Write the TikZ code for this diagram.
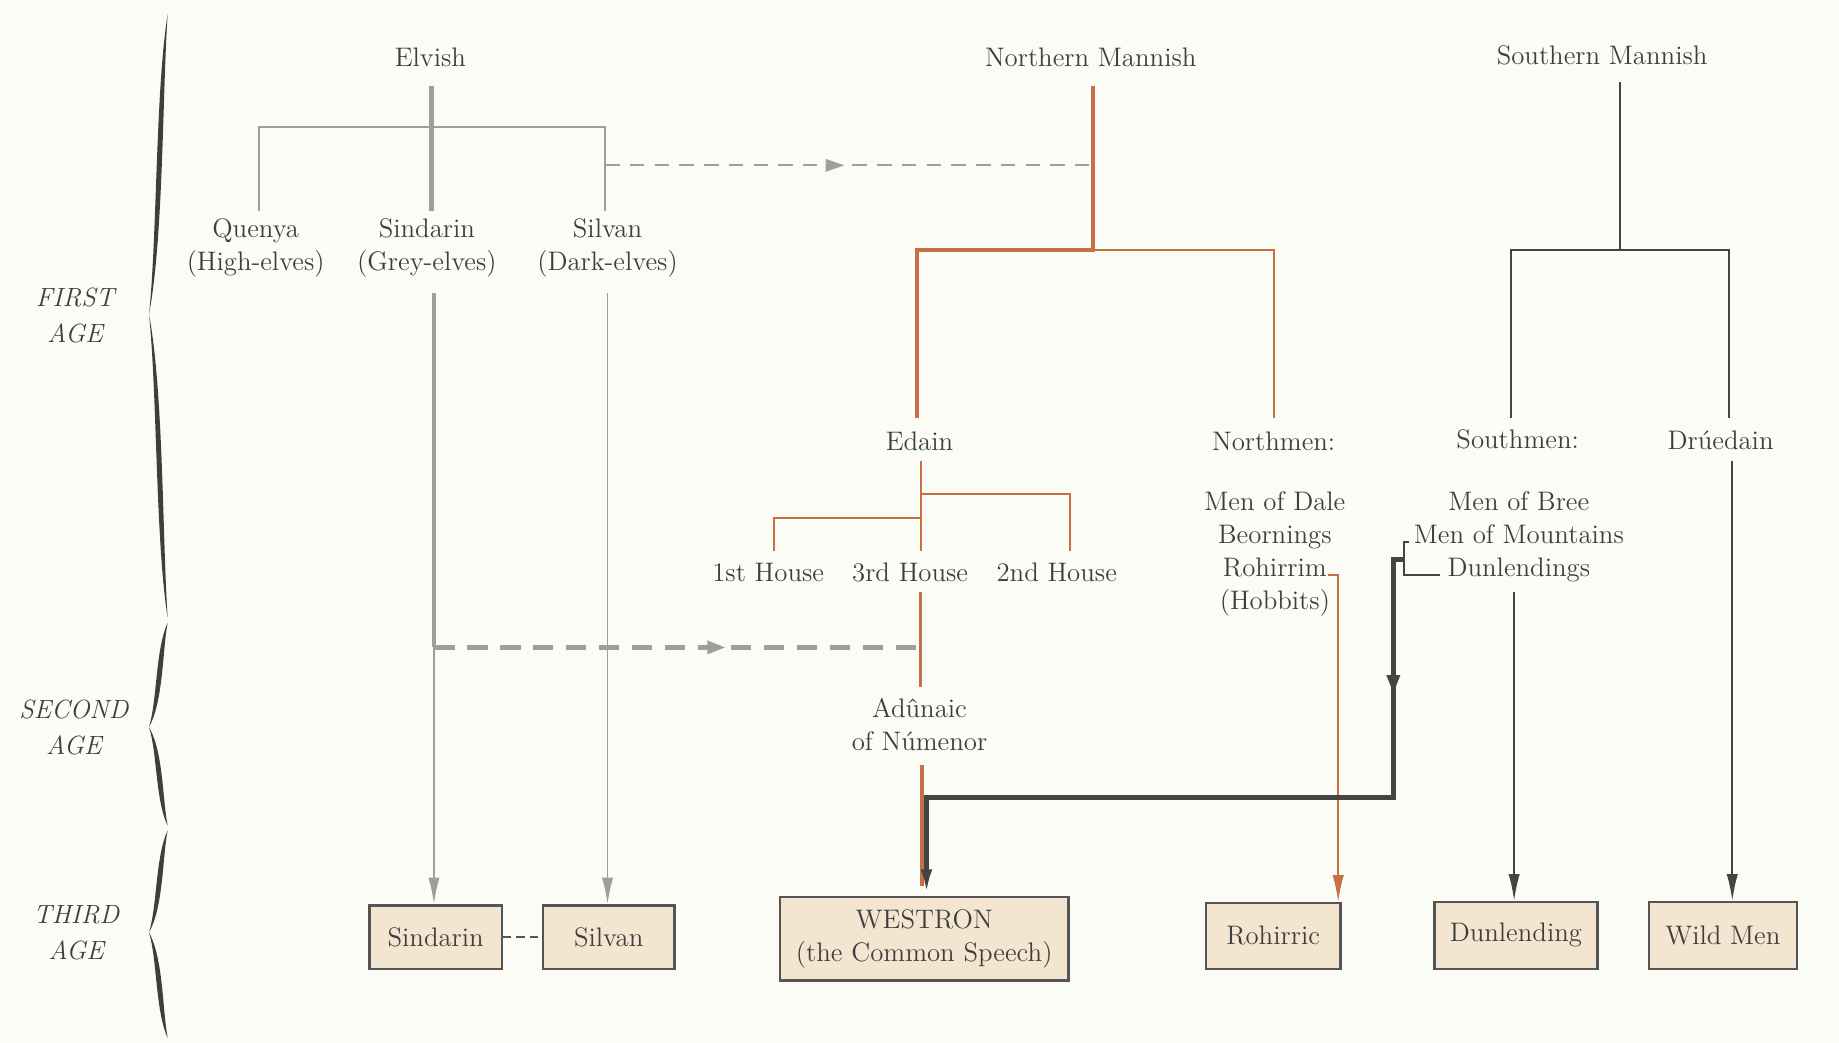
\documentclass[tikz,border=0pt]{standalone}
\usetikzlibrary{arrows.meta,decorations.markings}
\definecolor{bg}{RGB}{252,252,246}
\definecolor{elf}{RGB}{158,158,158}
\definecolor{nman}{RGB}{198,112,68}
\definecolor{sman}{RGB}{68,68,68}
\definecolor{txt}{RGB}{62,62,62}
\definecolor{boxfill}{RGB}{243,229,208}
\definecolor{boxline}{RGB}{85,85,85}
\begin{document}
\begin{tikzpicture}[x=0.02cm,y=-0.02cm,
  lbl/.style={text=txt, inner sep=0pt, align=center, font=\fontsize{13}{16}\selectfont},
  agelbl/.style={text=txt, inner sep=0pt, align=center, font=\fontsize{12.8}{17.5}\selectfont\itshape},
  lang/.style={draw=boxline, line width=1.1pt, fill=boxfill, text=txt, align=center, inner sep=0pt, font=\fontsize{13}{16}\selectfont},
  thinln/.style={line width=0.9pt},
  thickln/.style={line width=2.3pt},
  tip/.style={-{Latex[length=13pt,width=5.5pt]}},
  midarrow/.style={postaction={decorate}, decoration={markings, mark=at position #1 with {\arrow{Triangle[length=9pt,width=6pt]}}}},
]
\fill[bg] (0,0) rectangle (1568,889);
\useasboundingbox (0,0) rectangle (1568,889);

% ---- braces ----
\foreach \ya/\yt/\yb in {12/268/527, 531/620/704, 708/795/885}{
  \fill[txt] (143,\ya) .. controls (132.5,{\ya+0.25*(\yt-\ya)}) and (134,{\yt-0.25*(\yt-\ya)}) .. (127,\yt)
     .. controls (139.5,{\yt-0.25*(\yt-\ya)}) and (138.5,{\ya+0.25*(\yt-\ya)}) .. (143,\ya) -- cycle;
  \fill[txt] (127,\yt) .. controls (134,{\yt+0.25*(\yb-\yt)}) and (132.5,{\yb-0.25*(\yb-\yt)}) .. (143,\yb)
     .. controls (138.5,{\yb-0.25*(\yb-\yt)}) and (139.5,{\yt+0.25*(\yb-\yt)}) .. (127,\yt) -- cycle;
}

% ---- age labels ----
\node[agelbl] (first) at (64,269) {FIRST\\AGE};
\node[agelbl] (second) at (63,620) {SECOND\\AGE};
\node[agelbl] (third) at (65,795) {THIRD\\AGE};

% ---- text nodes ----
\node[lbl] (elvish) at (367,49) {Elvish};
\node[lbl] (nmann) at (930,49) {Northern Mannish};
\node[lbl] (smann) at (1366,47) {Southern Mannish};
\node[lbl] (quenya) at (218,211) {Quenya\\(High-elves)};
\node[lbl] (sind) at (364,211) {Sindarin\\(Grey-elves)};
\node[lbl] (silv) at (518,211) {Silvan\\(Dark-elves)};
\node[lbl] (edain) at (784,376) {Edain};
\node[lbl] (northmen) at (1086,376) {Northmen:};
\node[lbl] (southmen) at (1294,375) {Southmen:};
\node[lbl] (drue) at (1467,375) {Dr\'uedain};
\node[lbl] (nlist) at (1087,472) {Men of Dale\\Beornings\\Rohirrim\\(Hobbits)};
\node[lbl] (slist) at (1295,458) {Men of Bree\\Men of Mountains\\Dunlendings};
\node[lbl] (h1) at (655,488) {1st House};
\node[lbl] (h3) at (776,488) {3rd House};
\node[lbl] (h2) at (901,488) {2nd House};
\node[lbl] (adun) at (784,618) {Ad\^unaic\\of N\'umenor};

% ---- boxes ----
\node[lang, minimum width=2.26cm, minimum height=1.08cm] (bsind) at (371.5,799) {Sindarin};
\node[lang, minimum width=2.24cm, minimum height=1.08cm] (bsilv) at (519,799) {Silvan};
\node[lang, minimum width=4.92cm, minimum height=1.42cm] (bwest) at (788,800.5) {WESTRON\\(the Common Speech)};
\node[lang, minimum width=2.30cm, minimum height=1.12cm] (broh) at (1085.5,798) {Rohirric};
\node[lang, minimum width=2.78cm, minimum height=1.14cm] (bdun) at (1292.5,797.5) {Dunlending};
\node[lang, minimum width=2.52cm, minimum height=1.14cm] (bwild) at (1469,797.5) {Wild Men};

% ---- coordinates ----
\coordinate (e0) at (368,73);
\coordinate (e1) at (368,180);
\coordinate (qt) at (221,180);
\coordinate (qh) at (221,108);
\coordinate (sh) at (516,108);
\coordinate (st) at (516,180);
\coordinate (sd0) at (516,141);
\coordinate (nm0) at (932,73);
\coordinate (nmj) at (932,213);
\coordinate (nmd) at (932,141);
\coordinate (edl) at (782,213);
\coordinate (edt) at (782,356);
\coordinate (nor) at (1086,213);
\coordinate (nort) at (1086,356);
\coordinate (sin0) at (370,250);
\coordinate (sin1) at (370,552);
\coordinate (sil0) at (518,250);
\coordinate (ad0) at (785,552);

% ---- Elvish ----
\draw[elf, thickln] (e0) -- (e1);
\draw[elf, thinln] (qt) -- (qh) -- (sh) -- (st);
\draw[elf, thinln, dash pattern=on 7pt off 5pt, midarrow=0.49] (sd0) -- (nmd);
\draw[elf, thickln] (sin0) -- (sin1);
\draw[elf, thinln, tip] (sin1) -- (bsind.north -| sin1);
\draw[elf, thinln, tip] (sil0) -- (bsilv.north -| sil0);
\draw[elf, line width=2.3pt, dash pattern=on 10pt off 6pt, midarrow=0.6] (sin1) -- (ad0);
\draw[boxline, thinln, dash pattern=on 4pt off 2.5pt] (bsind.east) -- (bsilv.west);

% ---- Northern Mannish ----
\draw[nman, line width=2pt] (nm0) -- (nmj) -- (edl) -- (edt);
\draw[nman, thinln] (nmj) -- (nor) -- (nort);
\draw[nman, thinln] (785,393) -- (785,470);
\draw[nman, thinln] (785,421) -- (912,421) -- (912,470);
\draw[nman, thinln] (785,442) -- (660,442) -- (660,470);
\draw[nman, line width=1.3pt] (785,505) -- (785,586);
\draw[nman, line width=2pt] (786,652) -- (786,755);
\draw[nman, thinln, tip] (1132,490) -- (1141,490) -- (broh.north -| 1141,0);

% ---- Southern Mannish ----
\draw[sman, thinln] (1381,70) -- (1381,213);
\draw[sman, thinln] (1288,356) -- (1288,213) -- (1474,213) -- (1474,356);
\draw[sman, thinln, tip] (1477,393) -- (bwild.north -| 1477,0);
\draw[sman, thinln, tip] (1291,505) -- (bdun.north -| 1291,0);
\draw[sman, thinln] (1201,462) -- (1197,462) -- (1197,490) -- (1228,490);
\draw[sman, thickln, tip, midarrow=0.178] (1197,477) -- (1188,477) -- (1188,680) -- (790,680) -- (bwest.north -| 790,0);
\end{tikzpicture}
\end{document}
